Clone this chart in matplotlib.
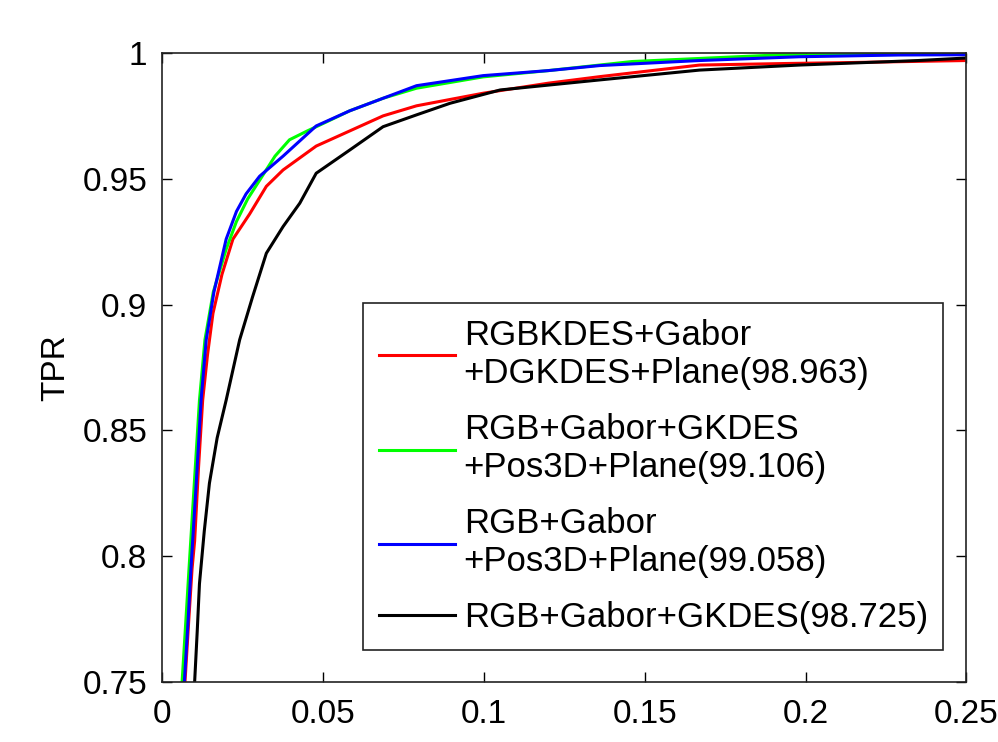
import numpy as np
import matplotlib
matplotlib.use('Agg')
import matplotlib.pyplot as plt
from matplotlib.ticker import FormatStrFormatter

plt.rcParams['font.family'] = ['Liberation Sans', 'DejaVu Sans']

# ROC curves (FPR, TPR)
red_fpr = [0.0070, 0.0082, 0.0092, 0.0100, 0.0112, 0.0125, 0.0140, 0.0157, 0.0185, 0.0219, 0.0271,
           0.0323, 0.0375, 0.0478, 0.0582, 0.0686, 0.0790, 0.0997, 0.1200, 0.1360, 0.1670, 0.1930,
           0.2140, 0.2500]
red_tpr = [0.750, 0.775, 0.795, 0.806, 0.835, 0.862, 0.880, 0.8965, 0.912, 0.926, 0.936,
           0.947, 0.9535, 0.963, 0.969, 0.975, 0.979, 0.984, 0.988, 0.9906, 0.9952, 0.9958,
           0.9962, 0.997]

green_fpr = [0.0061, 0.0073, 0.0083, 0.0099, 0.0115, 0.0132, 0.0158, 0.0198, 0.0230, 0.0265, 0.0310,
             0.0350, 0.0395, 0.0450, 0.0500, 0.0582, 0.0686, 0.0790, 0.0997, 0.1200, 0.1460, 0.1700,
             0.1910, 0.2290, 0.2500]
green_tpr = [0.750, 0.775, 0.796, 0.829, 0.862, 0.886, 0.905, 0.922, 0.933, 0.942, 0.951,
             0.959, 0.9655, 0.969, 0.972, 0.977, 0.982, 0.986, 0.9905, 0.993, 0.9966, 0.998,
             0.9992, 0.9994, 0.9995]

blue_fpr = [0.0068, 0.0080, 0.0089, 0.0105, 0.0120, 0.0136, 0.0160, 0.0198, 0.0230, 0.0260, 0.0302,
            0.0375, 0.0478, 0.0582, 0.0686, 0.0790, 0.0997, 0.1200, 0.1360, 0.1670, 0.1980, 0.2290,
            0.2500]
blue_tpr = [0.750, 0.775, 0.796, 0.829, 0.862, 0.886, 0.905, 0.926, 0.937, 0.944, 0.951,
            0.959, 0.971, 0.977, 0.982, 0.987, 0.991, 0.993, 0.995, 0.997, 0.9985, 0.9992,
            0.9993]

black_fpr = [0.0100, 0.0108, 0.0115, 0.0130, 0.0146, 0.0170, 0.0198, 0.0240, 0.0280, 0.0323, 0.0375,
             0.0427, 0.0478, 0.0582, 0.0686, 0.0790, 0.0894, 0.1050, 0.1360, 0.1670, 0.1980, 0.2350,
             0.2500]
black_tpr = [0.750, 0.770, 0.789, 0.810, 0.829, 0.847, 0.862, 0.886, 0.903, 0.9204, 0.931,
             0.9403, 0.9522, 0.9614, 0.9707, 0.9754, 0.980, 0.9853, 0.9893, 0.9932, 0.9952, 0.997,
             0.998]

labels = ['RGBKDES+Gabor\n+DGKDES+Plane(98.963)',
          'RGB+Gabor+GKDES\n+Pos3D+Plane(99.106)',
          'RGB+Gabor\n+Pos3D+Plane(99.058)',
          'RGB+Gabor+GKDES(98.725)']

xticks = [0, 0.05, 0.1, 0.15, 0.2, 0.25]
yticks = [0.75, 0.8, 0.85, 0.9, 0.95, 1]

fs = 24
fig = plt.figure(figsize=(9.98, 7.42), dpi=100)
ax = fig.add_axes([0.1628, 0.0809, 0.8056, 0.8477])

lw = 2.2
ax.plot(red_fpr, red_tpr, color='#ff0000', lw=lw, label=labels[0])
ax.plot(green_fpr, green_tpr, color='#00ff00', lw=lw, label=labels[1])
ax.plot(blue_fpr, blue_tpr, color='#0000ff', lw=lw, label=labels[2])
ax.plot(black_fpr, black_tpr, color='black', lw=lw, label=labels[3])

ax.set_xlim(0, 0.25)
ax.set_ylim(0.75, 1)
ax.set_xticks(xticks)
ax.set_yticks(yticks)
ax.xaxis.set_major_formatter(FormatStrFormatter('%g'))
ax.yaxis.set_major_formatter(FormatStrFormatter('%g'))
ax.tick_params(direction='in', length=7, width=1, top=True, right=True, labelsize=fs)
ax.tick_params(axis='x', pad=12)
ax.tick_params(axis='y', pad=11)
for s in ax.spines.values():
    s.set_linewidth(1.2)
    s.set_color('#222222')

ax.set_xlabel('FPR', fontsize=fs, labelpad=10)
ax.set_ylabel('TPR', fontsize=fs, labelpad=8)

leg = ax.legend(loc='lower left', bbox_to_anchor=(0.2494, 0.0509), borderaxespad=0,
                fontsize=25, fancybox=False, framealpha=1, edgecolor='#222222',
                handlelength=2.2, handletextpad=0.25, labelspacing=0.66, borderpad=0.45)
leg.get_frame().set_linewidth(1.2)

fig.savefig('out.png', dpi=100)
